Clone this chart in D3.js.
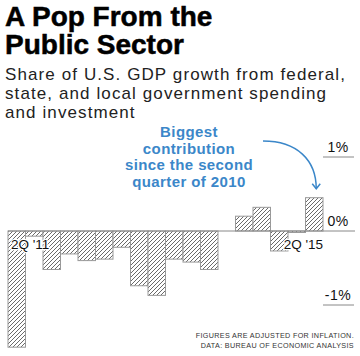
<!DOCTYPE html>
<html>
<head>
<meta charset="utf-8">
<script src="https://cdnjs.cloudflare.com/ajax/libs/d3/7.8.5/d3.min.js"></script>
<style>
  html, body { margin: 0; padding: 0; background: #fff; }
  svg { display: block; }
  text { font-family: "Liberation Sans", Arial, Helvetica, sans-serif; }
</style>
</head>
<body>
<svg id="chart" width="360" height="356"></svg>
<script>
// ---- data ----
const quarters = ["1Q '11","2Q '11","3Q '11","4Q '11","1Q '12","2Q '12","3Q '12","4Q '12",
                  "1Q '13","2Q '13","3Q '13","4Q '13","1Q '14","2Q '14","3Q '14","4Q '14",
                  "1Q '15","2Q '15"];
const govContribution = [-1.57,-0.07,-0.52,-0.31,-0.40,-0.38,-0.22,-0.74,
                         -0.87,-0.38,-0.42,-0.52,0.00,0.20,0.32,-0.27,
                         -0.02,0.45];
const yTicks = [1, 0, -1];
const yTickLabels = ["1%", "0%", "-1%"];
const quarterLabels = ["2Q '11", "2Q '15"];
const titleLines = ["A Pop From the", "Public Sector"];
const subtitleLines = ["Share of U.S. GDP growth from federal,",
                       "state, and local government spending",
                       "and investment"];
const noteLines = ["Biggest", "contribution", "since the second", "quarter of 2010"];
const footerLines = ["FIGURES ARE ADJUSTED FOR INFLATION.",
                     "DATA: BUREAU OF ECONOMIC ANALYSIS"];

// ---- layout ----
const svg = d3.select("#chart");
const blue = "#3b87c9";

const x = d3.scaleBand().domain(quarters).range([8, 323]).padding(0);
const y = d3.scaleLinear().domain([-1, 1]).range([305, 157]);

// hatch pattern
const defs = svg.append("defs");
const pat = defs.append("pattern")
  .attr("id", "hatch")
  .attr("patternUnits", "userSpaceOnUse")
  .attr("width", 4).attr("height", 4);
pat.append("rect").attr("width", 4).attr("height", 4).attr("fill", "#fff");
pat.append("path")
  .attr("d", "M-1,1 l2,-2 M0,4 l4,-4 M3,5 l2,-2")
  .attr("stroke", "#444").attr("stroke-width", 0.8);

// title
svg.append("g").selectAll("text").data(titleLines).join("text")
  .attr("x", 5).attr("y", (d, i) => 26 + i * 28)
  .attr("font-size", 28).attr("font-weight", 700).attr("fill", "#000")
  .attr("stroke", "#000").attr("stroke-width", 0.5)
  .text(d => d);

// subtitle
svg.append("g").selectAll("text").data(subtitleLines).join("text")
  .attr("x", 5).attr("y", (d, i) => 80 + i * 19)
  .attr("font-size", 17).attr("fill", "#222")
  .attr("letter-spacing", 1.1)
  .text(d => d);

// bars
svg.append("g").selectAll("rect").data(govContribution).join("rect")
  .attr("x", (d, i) => x(quarters[i]))
  .attr("width", x.bandwidth())
  .attr("y", d => y(Math.max(0, d)))
  .attr("height", d => Math.abs(y(d) - y(0)))
  .attr("fill", "url(#hatch)")
  .attr("stroke", "#999").attr("stroke-width", 1);

// zero line
svg.append("line")
  .attr("x1", 8).attr("x2", 355)
  .attr("y1", y(0)).attr("y2", y(0))
  .attr("stroke", "#888").attr("stroke-width", 1);

// y ticks (right side)
const ty = svg.append("g");
ty.selectAll("line").data(yTicks.filter(t => t !== 0)).join("line")
  .attr("x1", 323).attr("x2", 354)
  .attr("y1", d => y(d)).attr("y2", d => y(d))
  .attr("stroke", "#888").attr("stroke-width", 1);
ty.selectAll("text").data(yTicks).join("text")
  .attr("x", 338).attr("y", d => y(d) - 5)
  .attr("text-anchor", "middle")
  .attr("font-size", 14).attr("fill", "#111")
  .attr("letter-spacing", 0.5)
  .text((d, i) => yTickLabels[i]);

// quarter labels
const qIdx = quarterLabels.map(l => quarters.indexOf(l));
svg.append("g").selectAll("text").data(quarterLabels).join("text")
  .attr("x", (d, i) => i === 0 ? x(quarters[0]) + 3 : x(quarters[qIdx[i]]) + x.bandwidth())
  .attr("y", 249)
  .attr("text-anchor", (d, i) => i === 0 ? "start" : "end")
  .attr("font-size", 13.5).attr("fill", "#111")
  .attr("stroke", "#fff").attr("stroke-width", 2.5).attr("paint-order", "stroke")
  .text(d => d);

// annotation
svg.append("g").selectAll("text").data(noteLines).join("text")
  .attr("x", 189).attr("y", (d, i) => 137 + i * 16.5)
  .attr("text-anchor", "middle")
  .attr("font-size", 15).attr("font-weight", 700).attr("fill", blue)
  .attr("letter-spacing", 0.4)
  .text(d => d);

const last = quarters[quarters.length - 1];
const ax = x(last) + x.bandwidth() / 2 + 2;
const ayEnd = y(govContribution[govContribution.length - 1]) - 9;
svg.append("path")
  .attr("d", `M263,141 C297,141 ${ax},160 ${ax},${ayEnd}`)
  .attr("fill", "none").attr("stroke", blue).attr("stroke-width", 1.5);
svg.append("path")
  .attr("d", `M${ax - 4},${ayEnd - 5} L${ax},${ayEnd} L${ax + 4},${ayEnd - 5}`)
  .attr("fill", "none").attr("stroke", blue).attr("stroke-width", 1.5);

// footer
svg.append("g").selectAll("text").data(footerLines).join("text")
  .attr("x", 354).attr("y", (d, i) => 338 + i * 9.5)
  .attr("text-anchor", "end")
  .attr("font-size", 7.2).attr("fill", "#333")
  .attr("letter-spacing", 0.35)
  .text(d => d);
</script>
</body>
</html>
